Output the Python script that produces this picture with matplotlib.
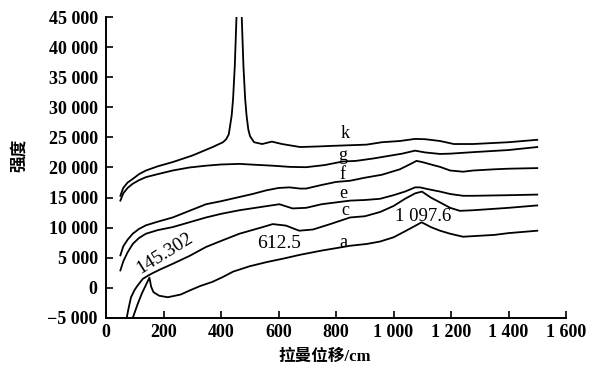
import numpy as np
import matplotlib
matplotlib.use("Agg")
import matplotlib.pyplot as plt
from matplotlib.ticker import FuncFormatter

# curves (x = Raman shift, y = intensity)
k_x = [50, 60, 75, 93, 115, 139, 180, 232, 301, 371, 407, 418, 427, 437, 442, 448, 454, 460, 464, 468, 472, 478, 484, 489, 495, 501, 515, 543, 577, 612, 675, 740, 790, 849, 907, 960, 1022, 1075, 1110, 1162, 1210, 1277, 1400, 1500]
k_y = [15300, 16600, 17500, 18100, 18900, 19500, 20200, 20900, 22000, 23400, 24200, 24700, 25500, 28600, 31400, 36900, 45200, 53000, 56000, 53000, 45200, 36900, 31400, 28600, 26300, 25200, 24200, 23900, 24300, 23900, 23400, 23500, 23600, 23700, 23800, 24200, 24400, 24750, 24700, 24400, 23900, 23900, 24200, 24600]

g_x = [50, 60, 75, 93, 115, 139, 180, 232, 290, 348, 400, 464, 520, 580, 640, 696, 760, 824, 870, 930, 980, 1030, 1075, 1110, 1162, 1197, 1277, 1400, 1500]
g_y = [14500, 15700, 16600, 17300, 17900, 18400, 18900, 19500, 20000, 20300, 20500, 20600, 20450, 20300, 20100, 20050, 20400, 21000, 21100, 21500, 21900, 22300, 22800, 22500, 22250, 22300, 22550, 22900, 23400]

f_x = [50, 60, 75, 93, 115, 139, 180, 232, 290, 348, 400, 464, 510, 557, 600, 638, 675, 696, 750, 800, 849, 900, 960, 1022, 1060, 1080, 1100, 1138, 1162, 1197, 1242, 1277, 1350, 1400, 1500]
f_y = [5400, 6900, 8000, 9000, 9800, 10400, 11000, 11700, 12800, 13900, 14400, 15100, 15600, 16200, 16600, 16700, 16500, 16500, 17100, 17600, 17800, 18300, 18800, 19700, 20600, 21100, 20900, 20400, 20100, 19500, 19300, 19500, 19700, 19800, 19900]

e_x = [50, 60, 75, 93, 115, 139, 180, 232, 290, 348, 400, 464, 533, 603, 649, 696, 750, 800, 849, 900, 953, 1000, 1040, 1075, 1092, 1120, 1162, 1197, 1242, 1277, 1400, 1500]
e_y = [2900, 4400, 5900, 7300, 8300, 9000, 9600, 10100, 10900, 11700, 12300, 12900, 13400, 13900, 13200, 13300, 13900, 14200, 14500, 14600, 14800, 15400, 16000, 16700, 16700, 16400, 16000, 15600, 15300, 15300, 15400, 15500]

c_x = [72, 78, 87, 100, 110, 128, 145, 160, 190, 232, 290, 348, 400, 464, 545, 580, 626, 672, 720, 780, 849, 900, 953, 1000, 1040, 1075, 1099, 1130, 1162, 1197, 1231, 1277, 1400, 1500]
c_y = [-5000, -3500, -1550, -300, 400, 1500, 2000, 2400, 3100, 4000, 5300, 6800, 7800, 9000, 10100, 10600, 10350, 9500, 9700, 10600, 11700, 11900, 12600, 13600, 14800, 15700, 16000, 15000, 14200, 13300, 12800, 12900, 13300, 13700]

a_x = [93, 110, 125, 140, 151, 157, 165, 185, 215, 260, 290, 327, 370, 406, 442, 500, 560, 620, 675, 750, 800, 849, 907, 953, 1000, 1040, 1075, 1098, 1130, 1162, 1197, 1242, 1277, 1350, 1400, 1500]
a_y = [-5000, -2700, -900, 600, 1700, 200, -700, -1300, -1550, -1100, -450, 300, 1000, 1800, 2700, 3600, 4300, 4900, 5500, 6200, 6600, 7000, 7300, 7700, 8400, 9400, 10300, 10900, 10100, 9500, 9000, 8500, 8600, 8800, 9100, 9500]

curve_labels = ["k", "g", "f", "e", "c", "a"]
label_x = [831, 824, 824, 824, 831, 824]
label_y = [25700, 22000, 18900, 15600, 12800, 7600]

x_ticks = np.arange(0, 1601, 200)
y_ticks = np.arange(-5000, 45001, 5000)


def fmt(v, pos):
    s = "{:,}".format(int(v)).replace(",", " ")
    return s.replace("-", "\u2212")


plt.rcParams['font.family'] = ['Liberation Serif', 'Noto Sans CJK SC']

fig = plt.figure(figsize=(6.04, 3.70), dpi=100)
ax = fig.add_axes([106 / 604, 52 / 370, 460 / 604, 301 / 370])

for xs, ys in [(k_x, k_y), (g_x, g_y), (f_x, f_y), (e_x, e_y), (c_x, c_y), (a_x, a_y)]:
    ax.plot(xs, ys, color="black", lw=1.3)

for t, x, y in zip(curve_labels, label_x, label_y):
    ax.text(x, y, t, fontsize=13, ha="center", va="center")

# peak annotations
ax.text(205, 5700, "145.302", fontsize=14, rotation=32, ha="center", va="center")
ax.text(602, 7300, "612.5", fontsize=14, ha="center", va="center")
ax.text(1102, 11900, "1 097.6", fontsize=13.5, ha="center", va="center")

ax.set_xlim(0, 1600)
ax.set_ylim(-5000, 45000)
ax.set_xticks(x_ticks)
ax.set_yticks(y_ticks)
ax.xaxis.set_major_formatter(FuncFormatter(fmt))
ax.yaxis.set_major_formatter(FuncFormatter(fmt))
ax.tick_params(direction="in", length=5, width=1.2, labelsize=13, pad=6)
ax.tick_params(axis="x", pad=4)
for lab in ax.get_xticklabels() + ax.get_yticklabels():
    lab.set_fontweight("bold")

ax.spines["top"].set_visible(False)
ax.spines["right"].set_visible(False)
ax.spines["left"].set_linewidth(1.4)
ax.spines["bottom"].set_linewidth(1.4)

# axis titles
fig.text(20 / 604, 1 - 155 / 370, "强度", rotation=90, fontsize=12,
         fontweight="bold", ha="center", va="center")
fig.text(325 / 604, 1 - 357 / 370, "拉曼位移/cm", fontsize=12,
         fontweight="bold", ha="center", va="center")

fig.savefig("out.png", dpi=100)
